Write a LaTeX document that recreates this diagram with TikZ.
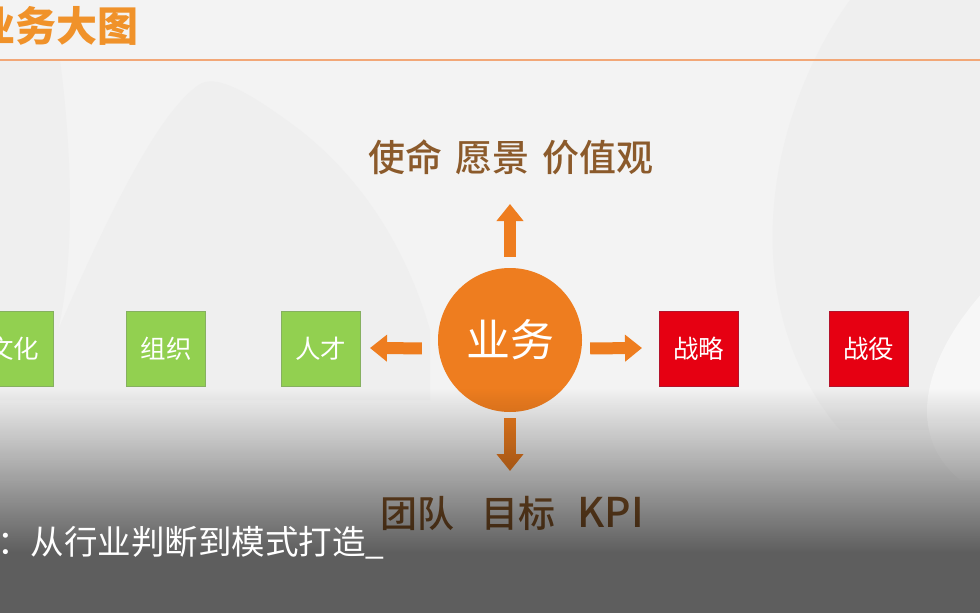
\documentclass[tikz,border=0pt]{standalone}
\usepackage{fontspec}
\newfontfamily\cjk{Noto Sans CJK SC}
\newfontfamily\cjkmed{Noto Sans CJK SC Medium}
\usetikzlibrary{arrows.meta,fadings}
\definecolor{bgbase}{HTML}{F3F3F3}
\definecolor{bgdark}{HTML}{EFEFEF}
\definecolor{bglight}{HTML}{F7F7F7}
\definecolor{titleorange}{HTML}{F0922A}
\definecolor{ruleorange}{HTML}{F2A777}
\definecolor{textbrown}{HTML}{8B5A2B}
\definecolor{bizorange}{HTML}{EE7D1F}
\definecolor{boxgreen}{HTML}{92D050}
\definecolor{boxgreenline}{HTML}{86B060}
\definecolor{boxred}{HTML}{E60012}
\definecolor{boxredline}{HTML}{B3132B}
\tikzfading[name=fadedown, top color=transparent!100, bottom color=transparent!0]
\begin{document}
\begin{tikzpicture}[x=1pt,y=-1pt,
  sqbox/.style={minimum width=79pt, minimum height=75pt, inner sep=0pt, line width=0.8pt,
    text=white, font=\cjk\fontsize{25.5}{25.5}\selectfont},
  greenbox/.style={sqbox, draw=boxgreenline, fill=boxgreen},
  redbox/.style={sqbox, draw=boxredline, fill=boxred},
  bigtext/.style={inner sep=0pt, font=\cjkmed\fontsize{37}{37}\selectfont},
  blockarrow/.style={draw=bizorange, line width=12pt,
    -{Triangle[width=26pt,length=17pt]}}]
\useasboundingbox (0,0) rectangle (980,613);
% background
\fill[bgbase] (0,0) rectangle (980,613);
\fill[bgdark] (0,60) -- (60,60) .. controls (72,150) and (75,260) .. (58,330) -- (58,400) -- (0,400) -- cycle;
\fill[bgdark] (58,330) .. controls (110,210) and (160,110) .. (200,84) .. controls (215,76) and (240,85) .. (300,130) .. controls (370,185) and (410,260) .. (430,330) -- (430,400) -- (58,400) -- cycle;
\fill[bgdark] (850,0) .. controls (770,110) and (730,300) .. (840,430) -- (980,430) -- (980,0) -- cycle;
\fill[bglight] (985,290) .. controls (930,350) and (900,430) .. (960,480) -- (985,480) -- cycle;
% title
\node[anchor=east, inner sep=0pt, text=titleorange, font=\cjk\bfseries\fontsize{41}{41}\selectfont] (title) at (139,26) {业务大图};
\draw[ruleorange, line width=1.5pt] (0,60) -- (980,60);
% centre
\node[circle, fill=bizorange, minimum size=144pt, inner sep=0pt, text=white,
  font=\cjk\fontsize{44}{44}\selectfont] (biz) at (510,340) {业务};
\node[bigtext, text=textbrown] (mission) at (511,157) {使命\hspace{13pt}愿景\hspace{13pt}价值观};
\node[bigtext, text=textbrown] (goals) at (512,513) {团队\hspace{27pt}目标\hspace{22pt}{\fontsize{41}{41}\selectfont KPI}};
% boxes
\node[greenbox] (culture) at (13.5,348.5) {文化};
\node[greenbox] (org) at (166,348.5) {组织};
\node[greenbox] (talent) at (320.5,348.5) {人才};
\node[redbox] (strategy) at (698.5,348.5) {战略};
\node[redbox] (campaign) at (868.5,348.5) {战役};
% arrows
\coordinate (upTip) at (510,204);
\coordinate (leftTip) at (370,348);
\coordinate (rightTip) at (642,348);
\coordinate (downTip) at (510,471);
\draw[blockarrow, shorten <=11pt] (biz.north) -- (upTip);
\draw[blockarrow, shorten <=16pt] (biz.west |- talent.center) -- (leftTip);
\draw[blockarrow, shorten <=8pt] (biz.east |- strategy.center) -- (rightTip);
\draw[blockarrow, shorten <=6pt] (biz.south) -- (downTip);
% dark overlay at the bottom
\fill[black, opacity=0.61, path fading=fadedown] (0,388) rectangle (980,552);
\fill[black, opacity=0.61] (0,552) rectangle (980,613);
% subtitle
\node[anchor=west, inner sep=0pt, text=white, font=\cjk\fontsize{33.5}{33.5}\selectfont] (sub) at (-3,543) {：从行业判断到模式打造\_};
\end{tikzpicture}
\end{document}
